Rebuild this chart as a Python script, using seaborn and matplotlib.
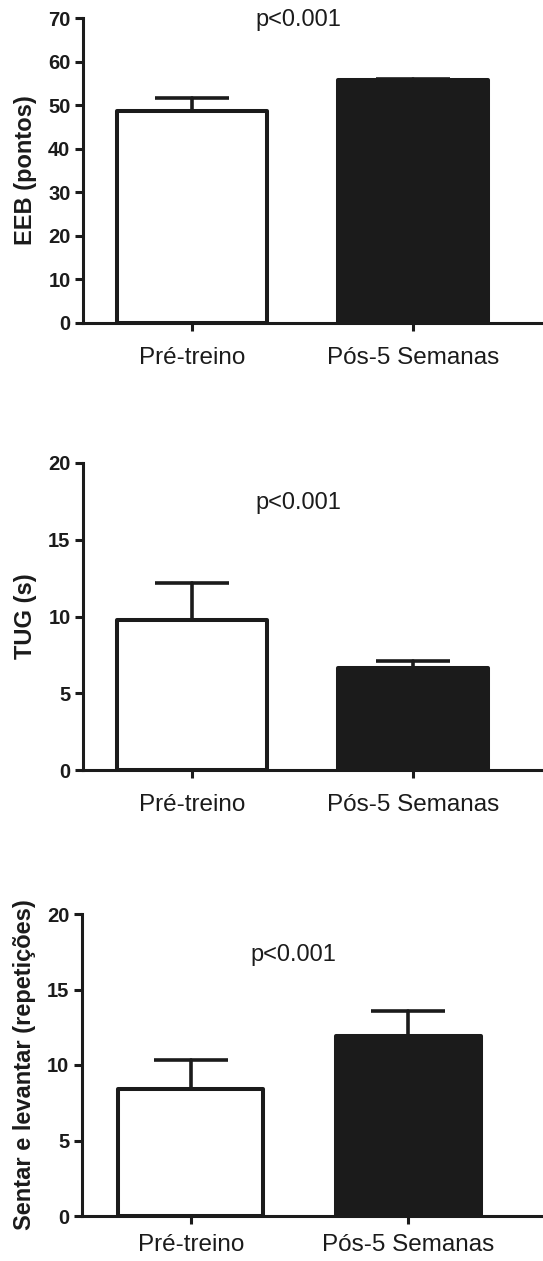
import matplotlib
matplotlib.use("Agg")
import matplotlib.pyplot as plt
import seaborn as sns
import pandas as pd

# dados (média e erro superior)
grupos = ['Pré-treino', 'Pós-5 Semanas']
eeb_media = [48.6, 55.7]
eeb_erro = [3.1, 0.4]
tug_media = [9.75, 6.62]
tug_erro = [2.41, 0.50]
sl_media = [8.42, 11.89]
sl_erro = [1.91, 1.71]

ylabels = ['EEB (pontos)', 'TUG (s)', 'Sentar e levantar (repetições)']
ylims = [70, 20, 20]
yticks = [range(0, 71, 10), range(0, 21, 5), range(0, 21, 5)]
p_texto = 'p<0.001'

sns.set_style("ticks")
plt.rcParams['font.family'] = ['Liberation Sans', 'DejaVu Sans']

W, H = 543, 1261
fig = plt.figure(figsize=(W / 100, H / 100), dpi=100)

# caixas dos eixos em pixels: esquerda, topo, zero
caixas = [(83, 18, 323), (83, 463, 770), (82, 914, 1216)]
xlims = [(-0.493, 1.588), (-0.493, 1.588), (-0.5, 1.62)]
p_pos = [(0.48, 69.5), (0.48, 17.4), (0.47, 17.3)]
larguras = [0.675, 0.675, 0.667]
ylabel_x = [37, 37, 36]
xpad = [11, 11, 7]

dados = [(eeb_media, eeb_erro), (tug_media, tug_erro), (sl_media, sl_erro)]
cor = '#1b1b1b'

for i, (media, erro) in enumerate(dados):
    esq, topo, zero = caixas[i]
    ax = fig.add_axes([esq / W, (H - zero) / H, (W - esq) / W, (zero - topo) / H])
    df = pd.DataFrame({'grupo': grupos, 'valor': media})
    sns.barplot(data=df, x='grupo', y='valor', hue='grupo', palette=['white', cor],
                legend=False, edgecolor=cor, linewidth=2.9, width=larguras[i],
                errorbar=None, ax=ax, zorder=2)
    for p in ax.patches:
        p.set_joinstyle('round')
    eb = ax.errorbar(x=[0, 1], y=media, yerr=[[0, 0], erro], fmt='none', ecolor=cor,
                     elinewidth=2.6, capsize=26.5, capthick=2.6, zorder=3)
    for ln in eb.lines[2]:
        ln.set_capstyle('round')
    for cap in eb.lines[1]:
        cap.set_solid_capstyle('round')
    ax.set_xlim(*xlims[i])
    ax.set_ylim(0, ylims[i])
    ax.set_yticks(list(yticks[i]))
    ax.set_xlabel('')
    ax.set_ylabel(ylabels[i], fontsize=17, fontweight='bold', color=cor)
    ax.yaxis.set_label_coords((ylabel_x[i] - esq) / (W - esq), 0.5)
    for s in ['top', 'right']:
        ax.spines[s].set_visible(False)
    for s in ['left', 'bottom']:
        ax.spines[s].set_linewidth(2.2)
        ax.spines[s].set_color(cor)
    ax.tick_params(axis='y', length=6, width=2.2, pad=3, labelsize=14.5, colors=cor)
    ax.tick_params(axis='x', length=6, width=2.2, pad=xpad[i], labelsize=17.5, colors=cor)
    for t in ax.get_yticklabels():
        t.set_fontweight('bold')
    ax.text(p_pos[i][0], p_pos[i][1], p_texto, ha='center', va='center', fontsize=17,
            color=cor, clip_on=False)

fig.savefig('out.png', dpi=100)
